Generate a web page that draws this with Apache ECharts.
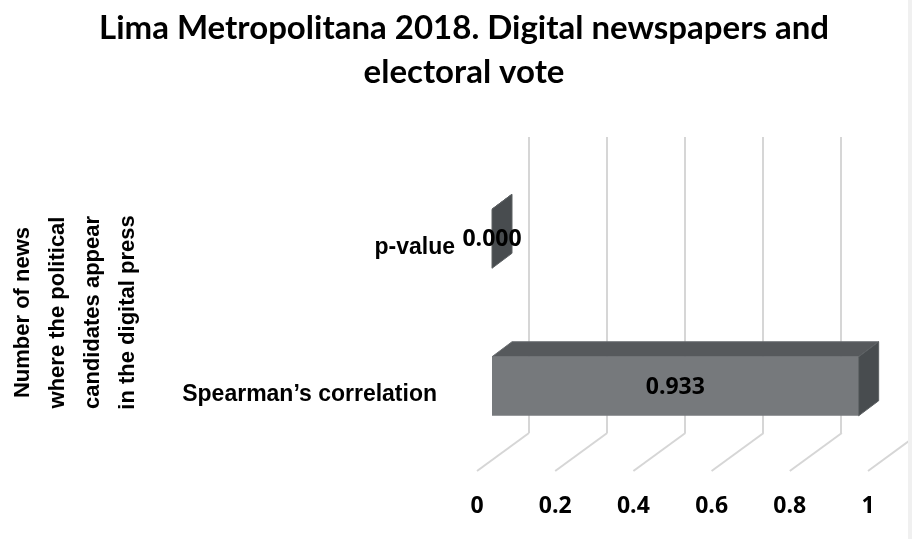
<!DOCTYPE html>
<html><head><meta charset="utf-8">
<script src="https://cdn.jsdelivr.net/npm/echarts@6/dist/echarts.min.js"></script>
<style>html,body{margin:0;padding:0;background:#fff}#c{width:912px;height:539px}</style>
</head><body><div id="c"></div>
<script>
// ---- data ----
const titleText = 'Lima Metropolitana 2018. Digital newspapers and\nelectoral vote';
const yAxisTitle = 'Number of news\nwhere the political\ncandidates appear\nin the digital press';
const categories = ['Spearman\u2019s correlation', 'p-value'];
const values = [0.933, 0.000];
const tickValues = [0, 0.2, 0.4, 0.6, 0.8, 1];
const tickLabels = ['0', '0.2', '0.4', '0.6', '0.8', '1'];

// ---- styling / geometry ----
const BAR_DEPTH = [20, -15];
const FLOOR_DEPTH = [52, -38];
const GRID_COLOR = '#d6d6d6';

const chart = echarts.init(document.getElementById('c'), null, {renderer: 'canvas'});

function tickLabel(v) {
  for (let i = 0; i < tickValues.length; i++) if (Math.abs(tickValues[i] - v) < 1e-9) return tickLabels[i];
  return '';
}

function renderBar(params, api) {
  const v = api.value(0), c = api.value(1);
  const p0 = api.coord([0, c]);
  const p1 = api.coord([v, c]);
  const h = api.size([0, 1])[1] * 0.4;
  const top = p0[1] - h / 2, bot = p0[1] + h / 2;
  const x0 = p0[0], x1 = p1[0];
  const dx = BAR_DEPTH[0], dy = BAR_DEPTH[1];
  return {
    type: 'group',
    children: [
      {type: 'polygon', shape: {points: [[x0, top], [x1, top], [x1 + dx, top + dy], [x0 + dx, top + dy]]},
        style: {fill: '#56595c', stroke: '#6a6d70', lineWidth: 1}},
      {type: 'rect', shape: {x: x0, y: top, width: x1 - x0, height: h},
        style: {fill: '#76797c'}},
      {type: 'polygon', shape: {points: [[x1, top], [x1 + dx, top + dy], [x1 + dx, bot + dy], [x1, bot]]},
        style: {fill: '#484c4f', stroke: '#5c6063', lineWidth: 1}},
      {type: 'text', x: (x0 + x1) / 2, y: p0[1] + 1,
        style: {text: v.toFixed(3), align: 'center', verticalAlign: 'middle',
          fontFamily: 'Open Sans', fontWeight: 'bold', fontSize: 23, fill: '#000'}}
    ]
  };
}

function renderFloor(params, api) {
  const p = api.coord([api.value(0), 0]);
  return {type: 'line', shape: {x1: p[0], y1: p[1], x2: p[0] + FLOOR_DEPTH[0], y2: p[1] + FLOOR_DEPTH[1]},
    style: {stroke: GRID_COLOR, lineWidth: 2}};
}

const option = {
  backgroundColor: '#ffffff',
  animation: false,
  title: {
    text: titleText, left: 464, top: 6, padding: 0, textAlign: 'center',
    textStyle: {fontFamily: 'Lato', fontWeight: 'bold', fontSize: 33, lineHeight: 44, color: '#000'}
  },
  grid: [
    {left: 492, width: 393, top: 165, height: 295, outerBoundsMode: 'none'},
    {left: 529, width: 390, top: 137, height: 296, outerBoundsMode: 'none'},
    {left: 477, width: 391, top: 137, height: 334, outerBoundsMode: 'none'}
  ],
  xAxis: [
    {gridIndex: 0, type: 'value', min: 0, max: 1, interval: 0.2, show: false},
    {gridIndex: 1, type: 'value', min: 0, max: 1, interval: 0.2,
      axisLine: {show: false}, axisTick: {show: false}, axisLabel: {show: false},
      splitLine: {show: true, lineStyle: {color: GRID_COLOR, width: 2}}},
    {gridIndex: 2, type: 'value', min: 0, max: 1, interval: 0.2,
      axisLine: {show: false}, axisTick: {show: false}, splitLine: {show: false},
      axisLabel: {show: true, margin: 24, formatter: tickLabel, showMinLabel: true, showMaxLabel: true,
        fontFamily: 'Open Sans', fontWeight: 'bold', fontSize: 23, color: '#000'}}
  ],
  yAxis: [
    {gridIndex: 0, type: 'category', data: categories,
      axisLine: {show: false}, axisTick: {show: false}, splitLine: {show: false},
      axisLabel: {
        margin: 37,
        formatter: function (val, idx) { return idx === 0 ? '{s|' + val + '}' : '{p|' + val + '}'; },
        rich: {
          s: {padding: [17, 18, 0, 0], fontFamily: 'Liberation Sans', fontWeight: 'bold', fontSize: 23, color: '#000'},
          p: {padding: [18, 0, 0, 0], fontFamily: 'Liberation Sans', fontWeight: 'bold', fontSize: 23, color: '#000'}
        }
      },
      name: yAxisTitle, nameLocation: 'middle', nameRotate: 90, nameGap: 347,
      nameTextStyle: {fontFamily: 'Liberation Sans', fontWeight: 'bold', fontSize: 22, lineHeight: 35, color: '#000', align: 'center'}
    },
    {gridIndex: 1, type: 'value', min: 0, max: 1, show: false},
    {gridIndex: 2, type: 'value', min: 0, max: 1, show: false}
  ],
  series: [
    {type: 'custom', xAxisIndex: 2, yAxisIndex: 2, renderItem: renderFloor,
      data: tickValues.map(v => [v, 0]), encode: {x: 0, y: 1}, silent: true, z: 1},
    {type: 'custom', xAxisIndex: 0, yAxisIndex: 0, renderItem: renderBar,
      data: values.map((v, i) => [v, i]), encode: {x: 0, y: 1}, z: 5}
  ],
  graphic: [
    {type: 'rect', right: 0, top: 0, shape: {width: 4, height: 539}, style: {fill: '#f0f0f0'}, z: 100}
  ]
};
chart.setOption(option);
</script>
</body></html>
